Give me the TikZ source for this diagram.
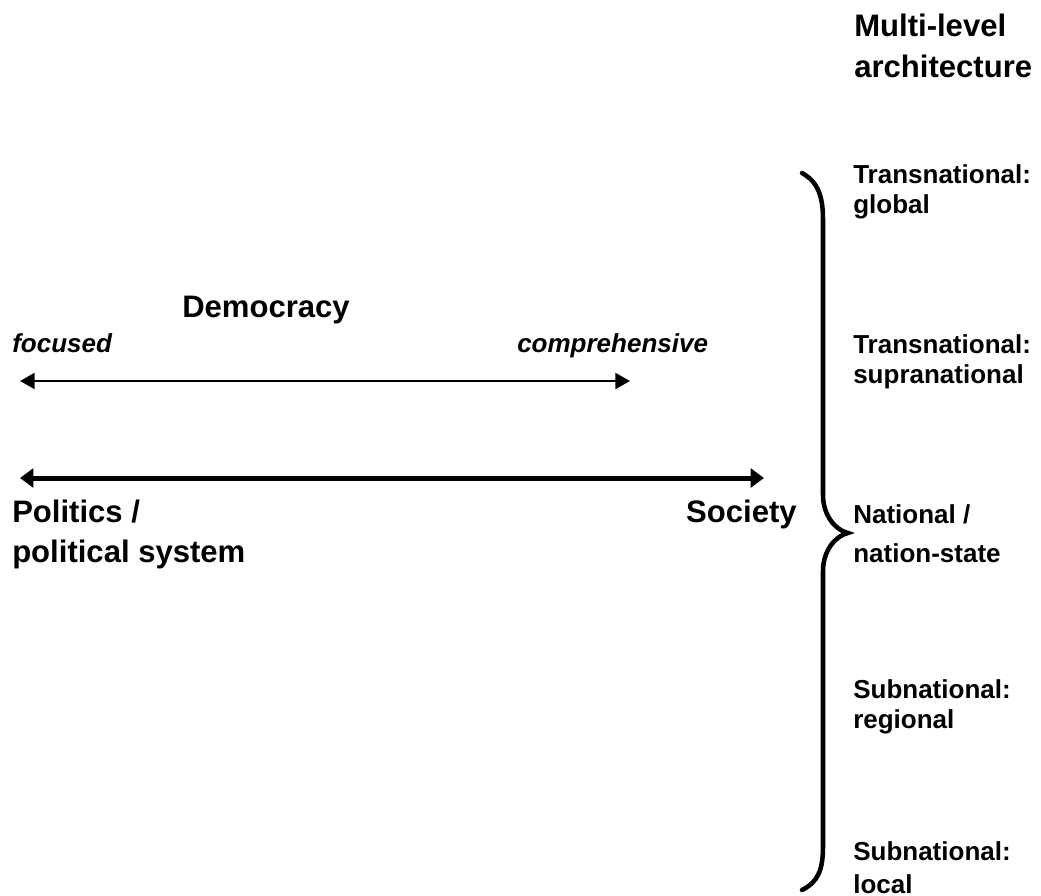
\documentclass[tikz,border=0pt]{standalone}
\usepackage{fontspec}
\setmainfont{Liberation Sans}
\usetikzlibrary{arrows.meta}

\begin{document}
\begin{tikzpicture}[x=0.75pt, y=-0.75pt, inner sep=0pt,
  big/.style={font=\fontsize{23.3}{30}\selectfont\bfseries, align=left, anchor=base west},
  level/.style={font=\fontsize{19.5}{22.5}\selectfont\bfseries, align=left, anchor=base west},
  pole/.style={font=\fontsize{19.5}{22.5}\selectfont\bfseries\itshape, anchor=base west},
  thinaxis/.style={{Triangle[length=11pt,width=12pt]}-{Triangle[length=11pt,width=12pt]}, line width=1.5pt},
  thickaxis/.style={{Triangle[length=10pt,width=14pt]}-{Triangle[length=10pt,width=14pt]}, line width=3.75pt}]

\useasboundingbox (0,0) rectangle (1041,895);

% left part: democracy scale
\node[big] (dem) at (182,317) {Democracy};
\node[pole] (foc) at (12,352) {focused};
\node[pole] (comp) at (517,352) {comprehensive};
\coordinate (focend) at (20,381);
\coordinate (compend) at (630,381);
\draw[thinaxis] (focend) -- (compend);

\coordinate (polend) at (20,478);
\coordinate (socend) at (764,478);
\draw[thickaxis] (polend) -- (socend);
\node[big] (pol) at (12,562) {Politics /\\political system};
\node[big, anchor=base east] (soc) at (797,522) {Society};

% right part: levels (nodes sit on the baseline of their last line)
\node[big] (ml) at (854,78) {Multi-level\\[0.75pt]architecture};
\node[level] (tglob) at (853,213) {Transnational:\\global};
\node[level] (tsupra) at (853,383) {Transnational:\\supranational};
\node[level] (nat) at (853,562) {National /\\[6.75pt]nation-state};
\node[level] (sreg) at (853,728) {Subnational:\\regional};
\node[level] (sloc) at (853,893) {Subnational:\\[2pt]local};

\draw[line width=3.4pt, line cap=round]
  (802,173) .. controls (818,182) and (823,196) .. (823,220) -- (823,495)
  .. controls (823,515) and (835,530) .. (848,533)
  .. controls (835,536) and (823,551) .. (823,571) -- (823,846)
  .. controls (823,870) and (818,882) .. (802,890);

\end{tikzpicture}
\end{document}
